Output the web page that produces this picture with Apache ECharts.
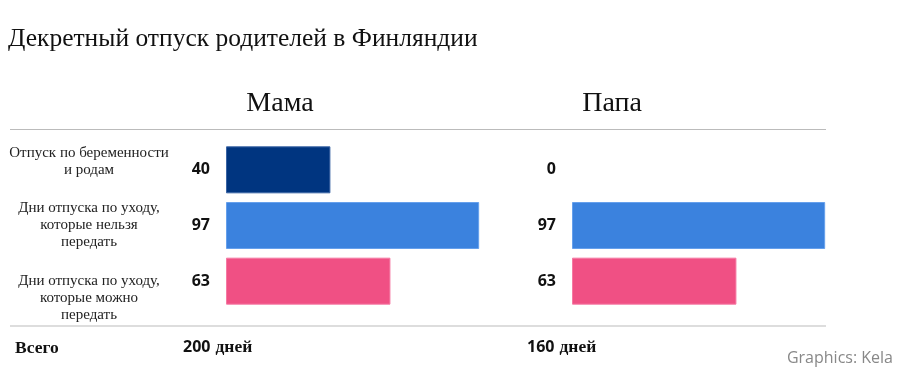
<!DOCTYPE html>
<html>
<head>
<meta charset="utf-8">
<script src="https://cdn.jsdelivr.net/npm/echarts@6/dist/echarts.min.js"></script>
<style>html,body{margin:0;padding:0;background:#fff}#c{width:900px;height:384px}</style>
</head>
<body>
<div id="c"></div>
<script>
const chartTitle = 'Декретный отпуск родителей в Финляндии';
const groups = ['Мама', 'Папа'];
const categories = [
  'Отпуск по беременности\nи родам',
  'Дни отпуска по уходу,\nкоторые нельзя\nпередать',
  'Дни отпуска по уходу,\nкоторые можно\nпередать'
];
const mamaDays = [40, 97, 63];
const papaDays = [0, 97, 63];
const totalLabel = 'Всего';
const unitLabel = 'дней';
const credit = 'Graphics: Kela';

const barColors = ['#003580', '#3b82de', '#f05084'];
const barBorders = ['#3a64a4', '#66a0ec', '#f57aa3'];

const sum = a => a.reduce((s, v) => s + v, 0);
const serif = '"Liberation Serif", "Times New Roman", serif';
const sans = '"Open Sans", "Noto Sans", sans-serif';

const chart = echarts.init(document.getElementById('c'), null, {renderer: 'canvas'});

const gridLeft = [226, 572];
const headerX = [275, 607];
const totalX = [178, 522];
// blank lines added around labels to mimic the reference's vertical placement
const padTop = [0, 0, 2];
const padBottom = [1, 0, 0];

function rowLabel(value, idx) {
  const lines = value.split('\n');
  const out = [];
  for (let k = 0; k < padTop[idx]; k++) out.push(' ');
  lines.forEach(l => out.push(l));
  for (let k = 0; k < padBottom[idx]; k++) out.push(' ');
  return out.join('\n');
}

const grids = gridLeft.map(l => ({left: l, width: 261, top: 142, height: 167, containLabel: false}));
const xAxes = gridLeft.map((l, i) => ({gridIndex: i, type: 'value', min: 0, max: 100, show: false}));
const yAxes = gridLeft.map((l, i) => ({
  gridIndex: i, type: 'category', inverse: true, data: categories,
  axisLine: {show: false}, axisTick: {show: false}, splitLine: {show: false},
  axisLabel: i === 0 ? {
    show: true, margin: 137, align: 'center', verticalAlign: 'middle',
    formatter: rowLabel, interval: 0, hideOverlap: false,
    fontFamily: serif, fontSize: 15, color: '#222', lineHeight: 17
  } : {show: false}
}));

const seriesData = [mamaDays, papaDays];
const series = seriesData.map((d, i) => ({
  type: 'bar', xAxisIndex: i, yAxisIndex: i, barWidth: 47,
  data: d.map((v, k) => ({
    value: v,
    itemStyle: {color: barColors[k], borderColor: barBorders[k], borderWidth: v > 0 ? 1 : 0}
  })),
  label: {
    show: true, position: 'left', distance: 16, formatter: '{c}',
    fontFamily: sans, fontWeight: 'bold', fontSize: 16, color: '#111'
  },
  silent: true, animation: false
}));

const titles = [
  {text: chartTitle, left: 3, top: 21, textStyle: {fontFamily: serif, fontSize: 25.5, fontWeight: 'normal', color: '#111'}},
  ...groups.map((g, i) => ({text: g, left: headerX[i], top: 85, textAlign: 'center',
    textStyle: {fontFamily: serif, fontSize: 28, fontWeight: 'normal', color: '#111'}})),
  {text: totalLabel, left: 10, top: 334, textStyle: {fontFamily: serif, fontSize: 17.5, fontWeight: 'bold', color: '#111'}},
  ...seriesData.map((d, i) => ({
    text: '{n|' + sum(d) + '} {u|' + unitLabel + '}', left: totalX[i], top: 333,
    textStyle: {rich: {
      n: {fontFamily: sans, fontSize: 16, fontWeight: 'bold', color: '#111'},
      u: {fontFamily: serif, fontSize: 17.5, fontWeight: 'bold', color: '#111'}
    }}
  })),
  {text: credit, right: 2, top: 345, textStyle: {fontFamily: sans, fontSize: 16, fontWeight: 'normal', color: '#888'}}
];

chart.setOption({
  animation: false,
  backgroundColor: '#fff',
  title: titles,
  grid: grids,
  xAxis: xAxes,
  yAxis: yAxes,
  series: series,
  graphic: [
    {type: 'line', shape: {x1: 10, y1: 129.5, x2: 826, y2: 129.5}, style: {stroke: '#bbbbbb', lineWidth: 1}, silent: true},
    {type: 'line', shape: {x1: 10, y1: 326, x2: 826, y2: 326}, style: {stroke: '#dddddd', lineWidth: 2}, silent: true}
  ]
});
</script>
</body>
</html>
